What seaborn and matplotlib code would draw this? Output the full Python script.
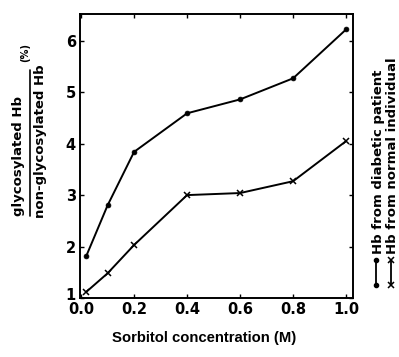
import numpy as np
import pandas as pd
import matplotlib
matplotlib.use("Agg")
import matplotlib.pyplot as plt
import matplotlib.transforms as mtransforms
import seaborn as sns
from matplotlib.lines import Line2D

sorbitol = [0.02, 0.1, 0.2, 0.4, 0.6, 0.8, 1.0]
diabetic = [1.82, 2.80, 3.84, 4.59, 4.86, 5.27, 6.22]
normal = [1.12, 1.48, 2.03, 3.00, 3.04, 3.27, 4.05]
x_ticks = [0.0, 0.2, 0.4, 0.6, 0.8, 1.0]
y_ticks = [1, 2, 3, 4, 5, 6]

sns.set_theme(style="ticks")
plt.rcParams['font.family'] = ['DejaVu Sans']
plt.rcParams['font.weight'] = 'bold'
plt.rcParams['text.color'] = 'black'
plt.rcParams['axes.labelcolor'] = 'black'
plt.rcParams['xtick.color'] = 'black'
plt.rcParams['ytick.color'] = 'black'

W, H = 399, 357
fig = plt.figure(figsize=(W / 100, H / 100), dpi=100)
ax = fig.add_axes([80 / W, 1 - 298 / H, 273 / W, 284 / H])

df = pd.DataFrame({"x": sorbitol * 2,
                   "y": diabetic + normal,
                   "s": ["diabetic"] * len(sorbitol) + ["normal"] * len(sorbitol)})
sns.lineplot(data=df[df.s == "diabetic"], x="x", y="y", ax=ax, color="black",
             lw=1.4, marker="o", markersize=3.5, markeredgewidth=0.5,
             markeredgecolor="black", markerfacecolor="black")
sns.lineplot(data=df[df.s == "normal"], x="x", y="y", ax=ax, color="black",
             lw=1.4, marker="x", markersize=4.5, markeredgewidth=1.1,
             markeredgecolor="black")

ax.set_xlim(-0.004, 1.026)
ax.set_ylim(1.0, 6.52)
ax.set_xticks(x_ticks)
ax.set_xticklabels([f"{v:.1f}" for v in x_ticks])
ax.set_yticks(y_ticks)
ax.set_yticklabels([str(v) for v in y_ticks])
ax.tick_params(direction="in", length=3, width=1, top=True, right=True,
               labelsize=10.5, pad=3, labelcolor="black", color="black")
for lbl in ax.get_xticklabels() + ax.get_yticklabels():
    lbl.set_fontweight("bold")
# lift the "1" label slightly so it sits above "0.0", as in the original
ylbls = ax.get_yticklabels()
ylbls[0].set_transform(ylbls[0].get_transform() +
                       mtransforms.ScaledTranslation(0, 4 / 100, fig.dpi_scale_trans))
for sp in ax.spines.values():
    sp.set_linewidth(1.4)
    sp.set_color("black")
ax.set_xlabel("")
ax.set_ylabel("")

def fx(p): return p / W
def fy(p): return 1 - p / H

fig.canvas.draw()
renderer = fig.canvas.get_renderer()

def fit_vtext(s, x_base, y_bottom, y_top, max_size=10, center=False):
    t = fig.text(fx(x_base), fy(y_bottom), s, rotation=90, rotation_mode="anchor",
                 ha="left", va="baseline", fontsize=10, fontweight="bold",
                 color="black")
    ext = t.get_window_extent(renderer)
    size = min(10 * (y_bottom - y_top) / ext.height, max_size)
    t.set_fontsize(size)
    if center:
        t.set_position((fx(x_base), fy((y_bottom + y_top) / 2)))
        t.set_ha("center")
    return t

def fit_htext(s, x_left, x_right, y_center):
    t = fig.text(fx((x_left + x_right) / 2), fy(y_center), s, ha="center", va="center",
                 fontsize=10, fontweight="bold", family="Liberation Sans", color="black")
    ext = t.get_window_extent(renderer)
    t.set_fontsize(10 * (x_right - x_left) / ext.width)
    return t

# x label
fit_htext("Sorbitol concentration (M)", 112, 296, 338)

# y label as fraction
fit_vtext("glycosylated Hb", 22, 221, 90, max_size=9.5, center=True)
fig.add_artist(Line2D([fx(29.5), fx(29.5)], [fy(70), fy(216)], color="black", lw=1.2,
                      transform=fig.transFigure, zorder=5))
fit_vtext("non-glycosylated Hb", 44, 219, 63, max_size=9.5, center=True)
fit_vtext("(%)", 28, 62, 43, max_size=8, center=True)

# legend on right
fig.add_artist(Line2D([fx(376), fx(376)], [fy(260), fy(285)], color="black", lw=1.3,
                      marker="o", markersize=3, markevery=[0, 1], transform=fig.transFigure))
fit_vtext("Hb from diabetic patient", 382, 254, 49, max_size=9.5)
fig.add_artist(Line2D([fx(391), fx(391)], [fy(260), fy(285)], color="black", lw=1.3,
                      marker="x", markersize=4, markeredgewidth=1.1, markevery=[0, 1],
                      transform=fig.transFigure))
fit_vtext("Hb from normal individual", 396, 254, 32, max_size=9.5)

fig.savefig("out.png", dpi=100)
